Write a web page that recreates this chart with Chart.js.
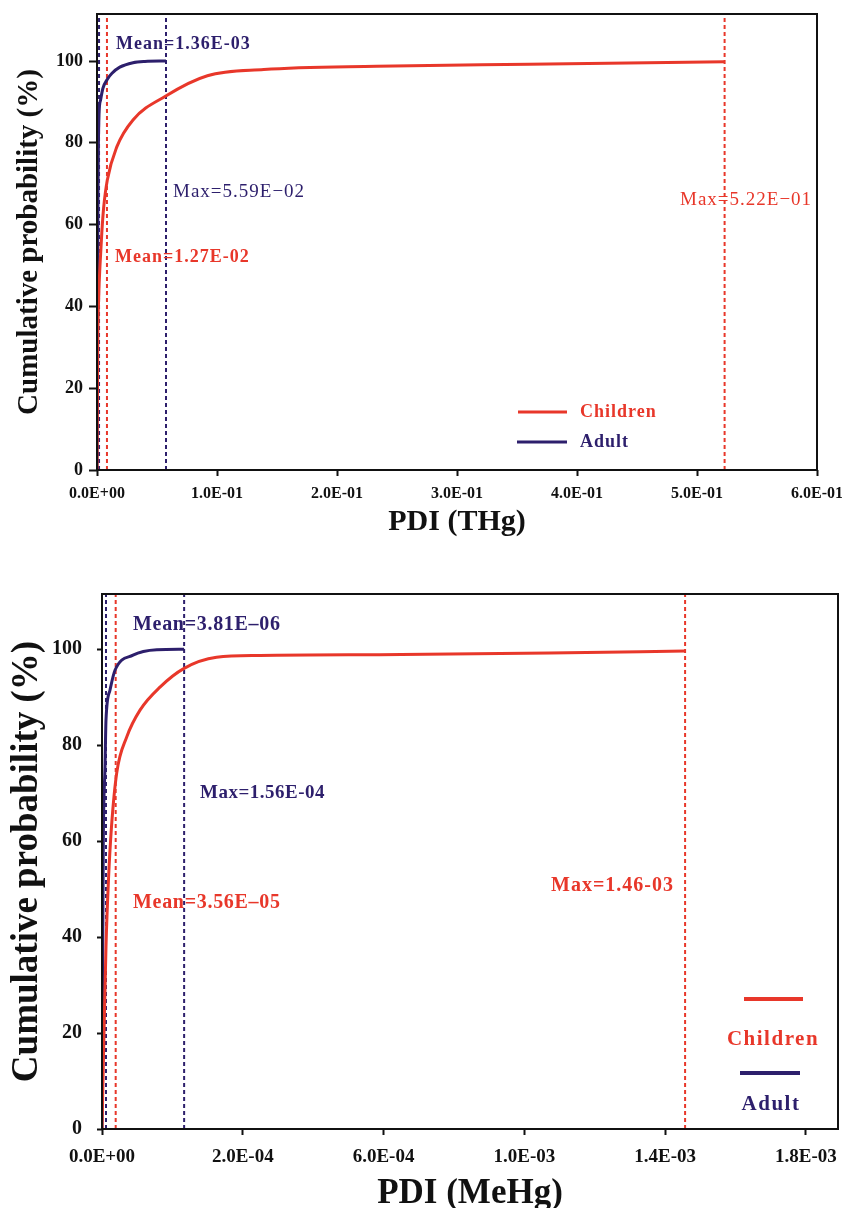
<!DOCTYPE html>
<html>
<head>
<meta charset="utf-8">
<script src="https://cdn.jsdelivr.net/npm/chart.js@4.4.1/dist/chart.umd.min.js"></script>
<style>
  html, body { margin: 0; padding: 0; background: #fff; }
  .box { position: relative; width: 842px; }
  #topBox { height: 545px; }
  #bottomBox { height: 663px; }
</style>
</head>
<body>
<div class="box" id="topBox"><canvas id="thgChart"></canvas></div>
<div class="box" id="bottomBox"><canvas id="mehgChart"></canvas></div>
<script>
const RED = '#e8372a';
const NAVY = '#2d1f6c';
const INK = '#111';
const SERIF = '"Liberation Serif", "Times New Roman", serif';

const yTicks = [0, 20, 40, 60, 80, 100];

// --- THg
const thgTicks = [0, 0.1, 0.2, 0.3, 0.4, 0.5, 0.6];
const thgTickLabels = ['0.0E+00', '1.0E-01', '2.0E-01', '3.0E-01', '4.0E-01', '5.0E-01', '6.0E-01'];
const thgChildrenX = [0, 0.0006, 0.0015, 0.0025, 0.004, 0.0055, 0.0086, 0.0165, 0.030, 0.057, 0.092, 0.139, 0.233, 0.36, 0.523];
const thgChildrenY = [0, 30, 43, 50, 58, 64, 70.9, 79, 85.6, 91.4, 96.4, 97.9, 98.7, 99.2, 99.8];
const thgAdultX = [0, 0.0004, 0.001, 0.0017, 0.003, 0.005, 0.0085, 0.0125, 0.019, 0.030, 0.040, 0.0575];
const thgAdultY = [0, 45, 75, 87, 90.5, 93.4, 95.5, 97, 98.5, 99.6, 99.9, 100];
const thgChildrenMarks = [0.0083, 0.523];   // mean, max
const thgAdultMarks = [0.0017, 0.0575];

// --- MeHg
const mehgTicks = [0, 0.00036, 0.00072, 0.00108, 0.00144, 0.0018];
const mehgTickLabels = ['0.0E+00', '2.0E-04', '6.0E-04', '1.0E-03', '1.4E-03', '1.8E-03'];
const mehgChildrenX = [0, 0.0000038, 0.0000102, 0.0000166, 0.0000243, 0.0000376, 0.0000632, 0.0000972, 0.0001483, 0.00021, 0.000293, 0.000404, 0.000765, 0.001145, 0.001491];
const mehgChildrenY = [0, 15, 38, 52, 63, 74.2, 81.7, 87.3, 92.1, 96, 98.3, 98.7, 98.9, 99.2, 99.6];
const mehgAdultX = [0, 0.0000013, 0.0000033, 0.0000077, 0.0000102, 0.0000205, 0.0000332, 0.0000793, 0.00014, 0.00021];
const mehgAdultY = [0, 30, 59.6, 75.5, 85.2, 91.5, 95.6, 98.75, 99.9, 100];
const mehgChildrenMarks = [0.000035, 0.001491];
const mehgAdultMarks = [0.0000102, 0.00021];

const Y_TOP = 111.5;

const notes = {
  id: 'notes',
  afterDraw(chart, args, opts) {
    const { ctx, chartArea: a } = chart;
    ctx.save();
    ctx.strokeStyle = INK;
    ctx.lineWidth = 2;
    ctx.strokeRect(a.left, a.top, a.right - a.left, a.bottom - a.top);

    ctx.textBaseline = 'middle';
    const write = (text, x, y, font, color, align, spacing) => {
      ctx.font = font;
      ctx.fillStyle = color;
      ctx.textAlign = align || 'left';
      if ('letterSpacing' in ctx) ctx.letterSpacing = (spacing || 0) + 'px';
      ctx.fillText(text, x, y);
    };
    opts.labels.forEach(n => write(n.text, n.x, n.y, n.font, n.color, 'left', n.spacing));

    opts.legend.forEach(item => {
      const ds = chart.data.datasets[item.index];
      ctx.strokeStyle = ds.borderColor;
      ctx.lineWidth = item.width;
      ctx.beginPath();
      ctx.moveTo(item.line[0], item.line[2]);
      ctx.lineTo(item.line[1], item.line[2]);
      ctx.stroke();
      write(ds.label, item.text[0], item.text[1], item.font, ds.borderColor, item.align, item.spacing);
    });
    ctx.restore();
  }
};

function points(xs, ys) {
  return xs.map((x, i) => ({ x: x, y: ys[i] }));
}

function marker(x, color) {
  return {
    label: 'marker',
    data: [{ x: x, y: 0 }, { x: x, y: Y_TOP }],
    borderColor: color,
    borderWidth: 2,
    borderDash: [4, 3],
    pointRadius: 0
  };
}

function pdiChart(id, c) {
  return new Chart(document.getElementById(id), {
    type: 'line',
    data: {
      datasets: [
        { label: 'Children', data: points(c.childX, c.childY), borderColor: RED, borderWidth: 3, pointRadius: 0, cubicInterpolationMode: 'monotone' },
        { label: 'Adult', data: points(c.adultX, c.adultY), borderColor: NAVY, borderWidth: 3, pointRadius: 0, cubicInterpolationMode: 'monotone' },
        marker(c.childMarks[0], RED),
        marker(c.childMarks[1], RED),
        marker(c.adultMarks[0], NAVY),
        marker(c.adultMarks[1], NAVY)
      ]
    },
    options: {
      responsive: true,
      maintainAspectRatio: false,
      animation: false,
      layout: { padding: c.padding },
      plugins: {
        legend: { display: false },
        tooltip: { enabled: false },
        notes: { labels: c.labels, legend: c.legend }
      },
      scales: {
        x: {
          type: 'linear',
          min: 0,
          max: c.xMax,
          afterBuildTicks: s => { s.ticks = c.xTicks.map(v => ({ value: v })); },
          afterFit: s => { s.height = c.xHeight; s.paddingLeft = 0; s.paddingRight = 0; },
          ticks: {
            callback: (v, i) => c.xTickLabels[i],
            autoSkip: false, maxRotation: 0, minRotation: 0,
            color: INK, padding: c.xTickPad,
            font: { family: SERIF, size: c.xTickSize, weight: 'bold' }
          },
          grid: { drawOnChartArea: false, tickLength: 6, tickWidth: 2, tickColor: INK },
          border: { display: false },
          title: {
            display: true, text: c.xTitle, color: INK,
            font: { family: SERIF, size: c.xTitleSize, weight: 'bold', lineHeight: c.xTitleLH },
            padding: { top: 0, bottom: c.xTitlePad }
          }
        },
        y: {
          min: 0,
          max: Y_TOP,
          afterBuildTicks: s => { s.ticks = yTicks.map(v => ({ value: v })); },
          afterFit: s => { s.width = c.yWidth; s.paddingTop = 0; s.paddingBottom = 0; },
          ticks: {
            color: INK, padding: c.yTickPad,
            font: { family: SERIF, size: c.yTickSize, weight: 'bold' }
          },
          grid: { drawOnChartArea: false, tickLength: c.yTickLen, tickWidth: 2, tickColor: INK },
          border: { display: false },
          title: {
            display: true, text: 'Cumulative probability (%)', color: INK,
            font: { family: SERIF, size: c.yTitleSize, weight: 'bold', lineHeight: 1 },
            padding: { top: c.yTitlePad, bottom: 0 }
          }
        }
      }
    },
    plugins: [notes]
  });
}

pdiChart('thgChart', {
  childX: thgChildrenX, childY: thgChildrenY,
  adultX: thgAdultX, adultY: thgAdultY,
  childMarks: thgChildrenMarks, adultMarks: thgAdultMarks,
  xTicks: thgTicks, xTickLabels: thgTickLabels, xMax: 0.6,
  padding: { left: 0, right: 25, top: 14, bottom: 0 },
  xHeight: 75, yWidth: 97,
  xTickSize: 16, xTickPad: 8, yTickSize: 18, yTickPad: 6, yTickLen: 8,
  xTitle: 'PDI (THg)', xTitleSize: 30, xTitleLH: 1, xTitlePad: 8,
  yTitleSize: 29, yTitlePad: 15,
  labels: [
    { text: 'Mean=1.36E-03', x: 116, y: 44, color: NAVY, font: 'bold 18px ' + SERIF, spacing: 1 },
    { text: 'Max=5.59E\u221202', x: 173, y: 192, color: NAVY, font: '19px ' + SERIF, spacing: 1 },
    { text: 'Mean=1.27E-02', x: 115, y: 257, color: RED, font: 'bold 18px ' + SERIF, spacing: 1 },
    { text: 'Max=5.22E\u221201', x: 680, y: 200, color: RED, font: '19px ' + SERIF, spacing: 1 }
  ],
  legend: [
    { index: 0, line: [518, 567, 412], width: 3, text: [580, 412], align: 'left', font: 'bold 18px ' + SERIF, spacing: 1 },
    { index: 1, line: [517, 567, 442], width: 3, text: [580, 442], align: 'left', font: 'bold 18px ' + SERIF, spacing: 1 }
  ]
});

pdiChart('mehgChart', {
  childX: mehgChildrenX, childY: mehgChildrenY,
  adultX: mehgAdultX, adultY: mehgAdultY,
  childMarks: mehgChildrenMarks, adultMarks: mehgAdultMarks,
  xTicks: mehgTicks, xTickLabels: mehgTickLabels, xMax: 0.001882,
  padding: { left: 0, right: 4, top: 49, bottom: 0 },
  xHeight: 79, yWidth: 102,
  xTickSize: 19, xTickPad: 11, yTickSize: 20, yTickPad: 15, yTickLen: 5,
  xTitle: 'PDI (MeHg)', xTitleSize: 35, xTitleLH: 0.8, xTitlePad: 0,
  yTitleSize: 37, yTitlePad: 9,
  labels: [
    { text: 'Mean=3.81E\u201306', x: 133, y: 80, color: NAVY, font: 'bold 20px ' + SERIF, spacing: 0.7 },
    { text: 'Max=1.56E-04', x: 200, y: 248, color: NAVY, font: 'bold 19px ' + SERIF, spacing: 0.5 },
    { text: 'Mean=3.56E\u201305', x: 133, y: 358, color: RED, font: 'bold 20px ' + SERIF, spacing: 0.7 },
    { text: 'Max=1.46-03', x: 551, y: 341, color: RED, font: 'bold 20px ' + SERIF, spacing: 1 }
  ],
  legend: [
    { index: 0, line: [744, 803, 454], width: 4, text: [773, 495], align: 'center', font: 'bold 21px ' + SERIF, spacing: 1.5 },
    { index: 1, line: [740, 800, 528], width: 4, text: [771, 560], align: 'center', font: 'bold 21px ' + SERIF, spacing: 1.5 }
  ]
});
</script>
</body>
</html>
